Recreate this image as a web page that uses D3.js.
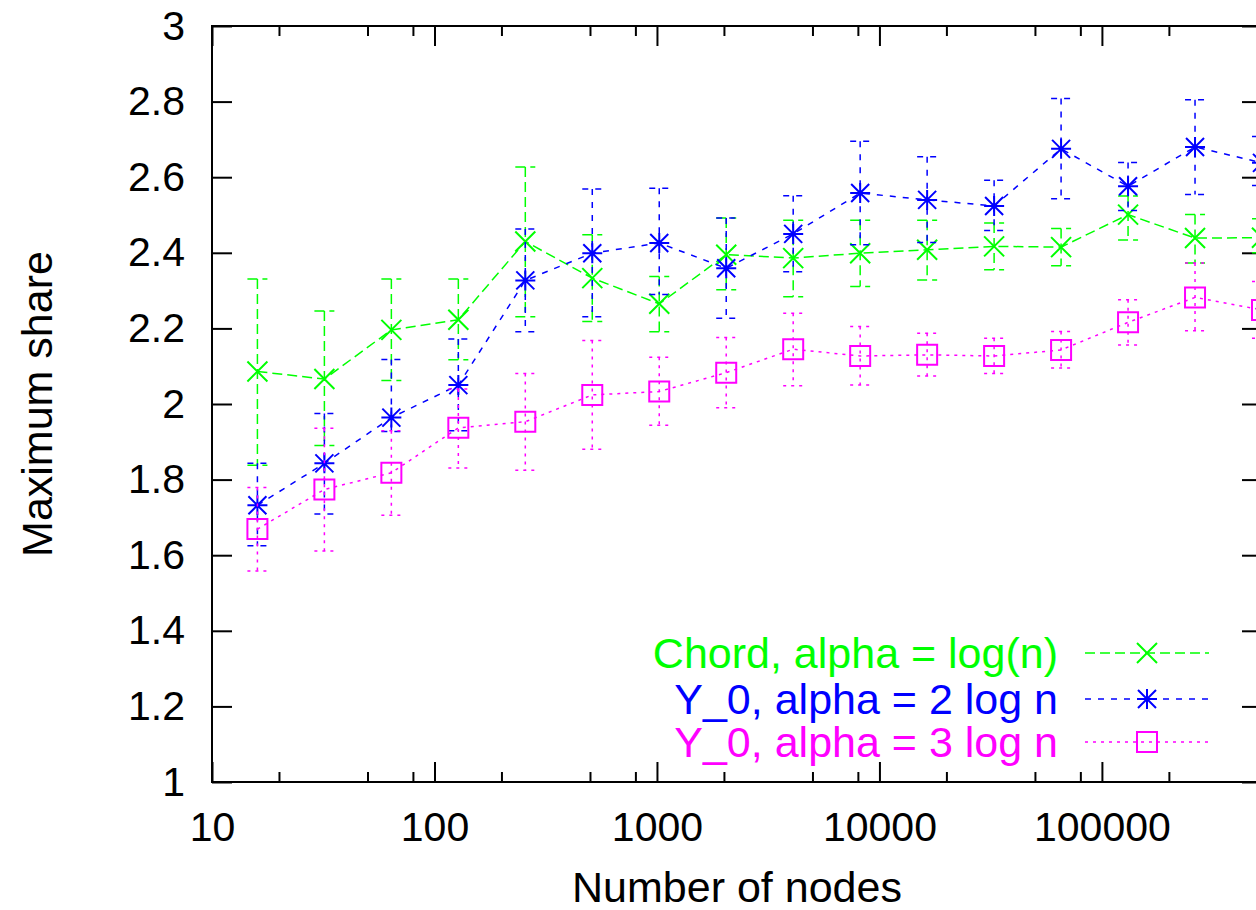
<!DOCTYPE html>
<html>
<head>
<meta charset="utf-8">
<script src="https://cdn.jsdelivr.net/npm/d3@7"></script>
<style>
  html, body { margin: 0; padding: 0; background: #fff; }
  svg { display: block; font-family: "Liberation Sans", Arial, Helvetica, sans-serif; }
</style>
</head>
<body>
<svg id="chart"></svg>
<script>
// number of nodes (x values)
const nodes = [16, 32, 64, 128, 256, 512, 1024, 2048, 4096, 8192, 16384, 32768, 65536, 131072, 262144, 524288];

// Chord, alpha = log(n)
const chordMean = [2.086, 2.066, 2.196, 2.223, 2.430, 2.333, 2.265, 2.395, 2.386, 2.399, 2.408, 2.417, 2.415, 2.501, 2.439, 2.440];
const chordLow  = [1.838, 1.890, 2.062, 2.117, 2.231, 2.218, 2.191, 2.302, 2.284, 2.311, 2.328, 2.355, 2.366, 2.434, 2.373, 2.400];
const chordHigh = [2.331, 2.246, 2.331, 2.331, 2.627, 2.448, 2.337, 2.492, 2.486, 2.486, 2.486, 2.479, 2.464, 2.550, 2.501, 2.490];

// Y_0, alpha = 2 log n
const y2Mean = [1.732, 1.843, 1.964, 2.050, 2.327, 2.399, 2.426, 2.359, 2.450, 2.558, 2.540, 2.524, 2.675, 2.576, 2.680, 2.638];
const y2Low  = [1.625, 1.709, 1.927, 1.929, 2.191, 2.231, 2.290, 2.227, 2.350, 2.421, 2.427, 2.459, 2.543, 2.512, 2.554, 2.578];
const y2High = [1.843, 1.975, 2.118, 2.172, 2.463, 2.569, 2.571, 2.492, 2.551, 2.695, 2.654, 2.592, 2.808, 2.639, 2.805, 2.708];

// Y_0, alpha = 3 log n
const y3Mean = [1.669, 1.774, 1.818, 1.937, 1.953, 2.024, 2.033, 2.083, 2.145, 2.127, 2.130, 2.127, 2.143, 2.216, 2.282, 2.249];
const y3Low  = [1.558, 1.611, 1.706, 1.831, 1.825, 1.880, 1.944, 1.990, 2.048, 2.050, 2.074, 2.081, 2.095, 2.156, 2.194, 2.174];
const y3High = [1.779, 1.936, 1.929, 2.040, 2.081, 2.168, 2.124, 2.176, 2.240, 2.205, 2.187, 2.174, 2.192, 2.276, 2.373, 2.324];

const seriesNames = ["Chord, alpha = log(n)", "Y_0, alpha = 2 log n", "Y_0, alpha = 3 log n"];
const seriesColors = ["#00ff00", "#0000ff", "#ff00ff"];

const xMajorTicks = [10, 100, 1000, 10000, 100000];
const xMinorTicks = [20, 50, 80, 200, 500, 800, 2000, 5000, 8000, 20000, 50000, 80000, 200000, 500000];
const yTicks = [1, 1.2, 1.4, 1.6, 1.8, 2, 2.2, 2.4, 2.6, 2.8, 3];

const width = 1256, height = 910;
const plotLeft = 212, plotRight = 1262, plotTop = 26, plotBottom = 782;

const svg = d3.select("#chart").attr("width", width).attr("height", height);

const x = d3.scaleLog().domain([10, 524288]).range([plotLeft, plotRight]);
const y = d3.scaleLinear().domain([1, 3]).range([plotBottom, plotTop]);

// axes
function styleAxis(g) {
    g.select(".domain").remove();
    g.selectAll(".tick line").attr("stroke", "#000").attr("stroke-width", 2);
    g.selectAll("text").attr("fill", "#000").style("font-size", "41px");
}

svg.append("g")
    .attr("transform", "translate(" + plotLeft + ",0)")
    .call(d3.axisLeft(y).tickValues(yTicks).tickSizeInner(-20).tickSizeOuter(0).tickPadding(27)
        .tickFormat(d3.format("~g")))
    .call(styleAxis);

svg.append("g")
    .attr("transform", "translate(" + plotRight + ",0)")
    .call(d3.axisRight(y).tickValues(yTicks).tickSizeInner(-20).tickSizeOuter(0).tickFormat(""))
    .call(styleAxis);

svg.append("g")
    .attr("transform", "translate(0," + plotBottom + ")")
    .call(d3.axisBottom(x).tickValues(xMajorTicks).tickSizeInner(-20).tickSizeOuter(0).tickPadding(30)
        .tickFormat(d3.format("d")))
    .call(styleAxis);

svg.append("g")
    .attr("transform", "translate(0," + plotBottom + ")")
    .call(d3.axisBottom(x).tickValues(xMinorTicks).tickSizeInner(-10).tickSizeOuter(0).tickFormat(""))
    .call(styleAxis);

svg.append("g")
    .attr("transform", "translate(0," + plotTop + ")")
    .call(d3.axisTop(x).tickValues(xMajorTicks).tickSizeInner(-20).tickSizeOuter(0).tickFormat(""))
    .call(styleAxis);

svg.append("g")
    .attr("transform", "translate(0," + plotTop + ")")
    .call(d3.axisTop(x).tickValues(xMinorTicks).tickSizeInner(-10).tickSizeOuter(0).tickFormat(""))
    .call(styleAxis);

// border
svg.append("rect")
    .attr("x", plotLeft).attr("y", plotTop)
    .attr("width", plotRight - plotLeft).attr("height", plotBottom - plotTop)
    .attr("fill", "none").attr("stroke", "#000").attr("stroke-width", 2);

// axis titles
svg.append("text")
    .attr("transform", "translate(52," + ((plotTop + plotBottom) / 2) + ") rotate(-90)")
    .attr("text-anchor", "middle")
    .style("font-size", "43px")
    .text("Maximum share");

svg.append("text")
    .attr("x", (plotLeft + plotRight) / 2)
    .attr("y", 902)
    .attr("text-anchor", "middle")
    .style("font-size", "43px")
    .text("Number of nodes");

// point markers
const markers = [
    "M-10,-10L10,10M-10,10L10,-10",
    "M-10,0L10,0M0,-10L0,10M-9,-9L9,9M-9,9L9,-9",
    "M-10,-10H10V10H-10Z"
];
const dashes = ["10,5", "6,7", "3,5"];

const series = [
    { mean: chordMean, low: chordLow, high: chordHigh },
    { mean: y2Mean, low: y2Low, high: y2High },
    { mean: y3Mean, low: y3Low, high: y3High }
];

const line = d3.line().x(d => x(d.n)).y(d => y(d.v));

series.forEach(function (s, i) {
    const pts = nodes.map((n, j) => ({ n: n, v: s.mean[j], lo: s.low[j], hi: s.high[j] }));
    const g = svg.append("g")
        .attr("stroke", seriesColors[i])
        .attr("fill", "none")
        .attr("stroke-width", 1.5);

    // error bars
    const eb = g.selectAll(".err").data(pts).join("g").attr("class", "err");
    eb.append("line")
        .attr("x1", d => x(d.n)).attr("x2", d => x(d.n))
        .attr("y1", d => y(d.hi)).attr("y2", d => y(d.lo))
        .attr("stroke-dasharray", dashes[i]);
    eb.append("line")
        .attr("x1", d => x(d.n) - 10).attr("x2", d => x(d.n) + 10)
        .attr("y1", d => y(d.hi)).attr("y2", d => y(d.hi))
        .attr("stroke-dasharray", dashes[i]);
    eb.append("line")
        .attr("x1", d => x(d.n) - 10).attr("x2", d => x(d.n) + 10)
        .attr("y1", d => y(d.lo)).attr("y2", d => y(d.lo))
        .attr("stroke-dasharray", dashes[i]);

    g.append("path")
        .attr("d", line(pts))
        .attr("stroke-dasharray", dashes[i]);

    g.selectAll(".pt").data(pts).join("path")
        .attr("class", "pt")
        .attr("transform", d => "translate(" + x(d.n) + "," + y(d.v) + ")")
        .attr("d", markers[i])
        .attr("stroke-width", 2);
});

// legend
const legendY = [653, 699, 742];
seriesNames.forEach(function (name, i) {
    const lg = svg.append("g");
    lg.append("text")
        .attr("x", 1058)
        .attr("y", legendY[i] + 15)
        .attr("text-anchor", "end")
        .attr("fill", seriesColors[i])
        .style("font-size", "43px")
        .text(name);
    lg.append("line")
        .attr("x1", 1085).attr("x2", 1209)
        .attr("y1", legendY[i]).attr("y2", legendY[i])
        .attr("stroke", seriesColors[i])
        .attr("stroke-width", 1.5)
        .attr("stroke-dasharray", dashes[i]);
    lg.append("path")
        .attr("transform", "translate(1147," + legendY[i] + ")")
        .attr("d", markers[i])
        .attr("fill", "none")
        .attr("stroke", seriesColors[i])
        .attr("stroke-width", 2);
});
</script>
</body>
</html>
